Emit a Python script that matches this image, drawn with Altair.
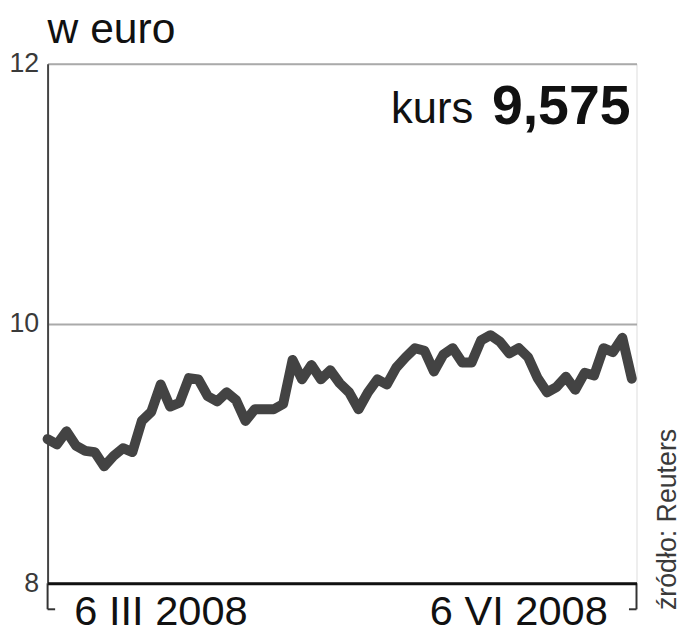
import altair as alt
import pandas as pd

# --- data ---
kurs_values = [9.11, 9.07, 9.17, 9.06, 9.02, 9.01, 8.90, 8.98, 9.04, 9.01,
               9.25, 9.32, 9.53, 9.36, 9.39, 9.58, 9.57, 9.44, 9.40, 9.47,
               9.41, 9.25, 9.34, 9.34, 9.34, 9.38, 9.72, 9.57, 9.68, 9.57,
               9.64, 9.54, 9.47, 9.34, 9.47, 9.57, 9.53, 9.66, 9.74, 9.81,
               9.79, 9.63, 9.76, 9.81, 9.70, 9.70, 9.87, 9.91, 9.86, 9.77,
               9.81, 9.74, 9.58, 9.47, 9.51, 9.59, 9.49, 9.62, 9.60, 9.81,
               9.78, 9.89, 9.575]
session = list(range(len(kurs_values)))
x_ticks = [0, 62.5]
x_tick_labels = ["6 III 2008", "6 VI 2008"]
y_ticks = [8, 10, 12]
unit_label = "w euro"
last_label = "kurs"
last_value = "9,575"
source_label = "źródło: Reuters"

FONT = "Liberation Sans"

df = pd.DataFrame({"session": session, "kurs": kurs_values})
x_scale = alt.Scale(domain=[x_ticks[0], x_ticks[1]], nice=False, zero=False)
y_scale = alt.Scale(domain=[y_ticks[0], y_ticks[-1]], nice=False, zero=False)

x_axis = alt.Axis(title=None, labels=False, ticks=False, grid=False,
                  domain=True, domainColor="#111111", domainWidth=3, zindex=1)
y_axis = alt.Axis(title=None, values=y_ticks, format="d", labelFont=FONT,
                  labelFontSize=27, labelColor="#3a3a3a", labelPadding=9,
                  ticks=False, grid=True, gridColor="#aaaaaa", gridWidth=2,
                  domain=True, domainColor="#444444", domainWidth=2)

line = alt.Chart(df).mark_line(
    color="#434343", strokeWidth=10, strokeJoin="round", strokeCap="round"
).encode(
    x=alt.X("session:Q", scale=x_scale, axis=x_axis),
    y=alt.Y("kurs:Q", scale=y_scale, axis=y_axis),
)

# bracket ticks below the bottom axis
vert_df = pd.DataFrame({"d": x_ticks, "y0": [8, 8], "y1": [7.8, 7.8]})
vert = alt.Chart(vert_df).mark_rule(color="#333333", strokeWidth=2).encode(
    x=alt.X("d:Q", scale=x_scale, axis=x_axis),
    y=alt.Y("y0:Q", scale=y_scale, axis=y_axis),
    y2="y1:Q",
)
horiz_df = pd.DataFrame({"d0": [x_ticks[0], x_ticks[1] - 0.8],
                         "d1": [x_ticks[0] + 0.8, x_ticks[1]],
                         "y": [7.8, 7.8]})
horiz = alt.Chart(horiz_df).mark_rule(color="#333333", strokeWidth=2).encode(
    x=alt.X("d0:Q", scale=x_scale, axis=x_axis),
    x2="d1:Q",
    y=alt.Y("y:Q", scale=y_scale, axis=y_axis),
)

lab_left = alt.Chart(pd.DataFrame({"d": [x_ticks[0]], "t": [x_tick_labels[0]]})).mark_text(
    align="left", baseline="alphabetic", dx=27, font=FONT, fontSize=42, color="#111111"
).encode(x=alt.X("d:Q", scale=x_scale, axis=x_axis), y=alt.value(567), text="t:N")

lab_right = alt.Chart(pd.DataFrame({"d": [x_ticks[1]], "t": [x_tick_labels[1]]})).mark_text(
    align="right", baseline="alphabetic", dx=-29, font=FONT, fontSize=42, color="#111111"
).encode(x=alt.X("d:Q", scale=x_scale, axis=x_axis), y=alt.value(567), text="t:N")

unit = alt.Chart(pd.DataFrame({"t": [unit_label]})).mark_text(
    align="left", baseline="alphabetic", font=FONT, fontSize=43, color="#111111"
).encode(x=alt.value(0), y=alt.value(-21), text="t:N")

kurs_lab = alt.Chart(pd.DataFrame({"t": [last_label]})).mark_text(
    align="right", baseline="alphabetic", font=FONT, fontSize=44, color="#111111"
).encode(x=alt.value(430), y=alt.value(60), text="t:N")

kurs_val = alt.Chart(pd.DataFrame({"t": [last_value]})).mark_text(
    align="right", baseline="alphabetic", font=FONT, fontSize=56, fontWeight="bold",
    color="#111111"
).encode(x=alt.value(589), y=alt.value(61), text="t:N")

source = alt.Chart(pd.DataFrame({"t": [source_label]})).mark_text(
    align="left", baseline="alphabetic", angle=270, font=FONT, fontSize=27,
    color="#3a3a3a"
).encode(x=alt.value(635), y=alt.value(552), text="t:N")

chart = alt.layer(
    line, vert, horiz, lab_left, lab_right, unit, kurs_lab, kurs_val, source
).properties(
    width=595, height=525,
    autosize=alt.AutoSizeParams(type="none"),
    padding={"left": 40, "top": 53, "right": 49, "bottom": 50},
).configure_view(strokeWidth=0).configure(background="white")

chart.save("out.html", embed_options={"renderer": "svg", "actions": False})
